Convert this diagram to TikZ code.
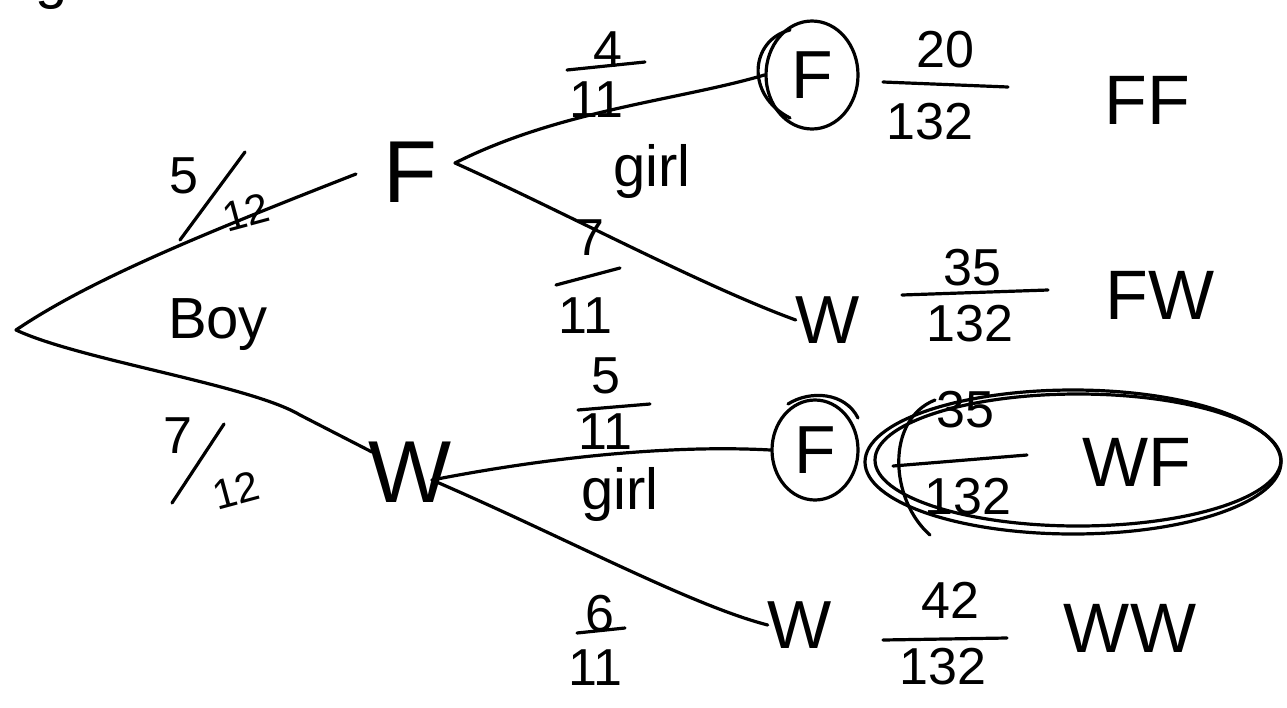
\documentclass[tikz,border=0pt]{standalone}
\usepackage{fontspec}
\setmainfont{Liberation Sans}
\usetikzlibrary{shapes.geometric}
\begin{document}
\begin{tikzpicture}[x=1pt,y=-1pt,
  ink/.style={line width=3.2pt, line cap=round, line join=round, black},
  big/.style={font=\fontsize{88}{88}\selectfont, inner sep=0pt},
  mid/.style={font=\fontsize{68}{68}\selectfont, inner sep=0pt},
  res/.style={font=\fontsize{70}{70}\selectfont, inner sep=0pt},
  num/.style={font=\fontsize{52}{52}\selectfont, inner sep=0pt},
  sml/.style={font=\fontsize{42}{42}\selectfont, inner sep=0pt},
  word/.style={font=\fontsize{58}{58}\selectfont, inner sep=0pt},
  ring/.style={ink, ellipse, draw, inner sep=0pt}]
\useasboundingbox (0,0) rectangle (1287,707);
\fill[white] (0,0) rectangle (1287,707);
% clipped fragment at top
\begin{scope}
\clip (0,0) rectangle (1287,707);
\node[word] (frag) at (52,-12) {g};
\end{scope}
% root and first level
\coordinate (root) at (16,330);
\node[big] (F1) at (410,172) {F};
\node[big] (W1) at (410,472) {W};
\coordinate (F1in) at (356,174);
\coordinate (W1in) at (372,452);
\draw[ink] (root) .. controls (90,280) and (200,235) .. (F1in);
\draw[ink] (root) .. controls (80,360) and (250,385) .. (300,415) -- (W1in);
% labels first level
\node[num] (n5) at (184,176) {5};
\node[sml, rotate=15] (d12a) at (246,212) {12};
\draw[ink] (180,240) -- (245,152);
\node[num] (n7) at (178,436) {7};
\node[sml, rotate=15] (d12b) at (236,490) {12};
\draw[ink] (172,503) -- (224,424);
\node[word] (boy) at (218,325) {Boy};
% second level nodes
\node[mid, ring, minimum width=92pt, minimum height=108pt] (F2) at (812,75) {F};
\draw[ink] (790,118) .. controls (745,95) and (750,40) .. (790,30);
\node[mid] (W2) at (828,320) {W};
\node[mid, ring, minimum width=86pt, minimum height=100pt] (F3) at (815,450) {F};
\draw[ink] (788,404) .. controls (810,390) and (845,392) .. (858,418);
\node[mid] (W3) at (800,625) {W};
% second level branches
\coordinate (F1out) at (455,163);
\coordinate (W1out) at (432,480);
\draw[ink] (F1out) .. controls (560,110) and (680,100) .. (F2.west);
\draw[ink] (F1out) .. controls (560,210) and (700,285) .. (W2.west);
\draw[ink] (W1out) .. controls (560,455) and (680,445) .. (F3.west);
\draw[ink] (W1out) .. controls (560,535) and (690,605) .. (W3.west);
% second level labels
\node[num] (n4) at (608,50) {4};
\draw[ink] (567,70) -- (645,62);
\node[num] (d11a) at (596,100) {11};
\node[num] (n7b) at (590,238) {7};
\draw[ink] (556,285) -- (620,268);
\node[num] (d11b) at (585,316) {11};
\node[num] (n5b) at (606,376) {5};
\draw[ink] (578,410) -- (650,404);
\node[num] (d11c) at (605,432) {11};
\node[num] (n6) at (600,614) {6};
\draw[ink] (577,633) -- (625,628);
\node[num] (d11d) at (595,668) {11};
\node[word] (girl1) at (652,172) {girl};
\node[word] (girl2) at (620,494) {girl};
% probabilities
\node[num] (p1n) at (945,50) {20};
\draw[ink] (883,82) -- (1008,87);
\node[num] (p1d) at (930,122) {132};
\node[num] (p2n) at (972,268) {35};
\draw[ink] (902,295) -- (1048,290);
\node[num] (p2d) at (970,324) {132};
\node[num] (p3n) at (965,410) {35};
\draw[ink] (893,466) -- (1027,455);
\node[num] (p3d) at (968,497) {132};
\node[num] (p4n) at (950,600) {42};
\draw[ink] (883,640) -- (1007,638);
\node[num] (p4d) at (943,667) {132};
% outcomes
\node[res] (FF) at (1147,100) {FF};
\node[res] (FW) at (1160,295) {FW};
\node[res] (WF) at (1137,462) {WF};
\node[res] (WW) at (1130,628) {WW};
% group ellipse
\draw[ink] (1073,462) ellipse [x radius=208pt, y radius=72pt];
\draw[ink] (1078,460) ellipse [x radius=203pt, y radius=66pt];
\draw[ink] (935,400) .. controls (885,420) and (890,500) .. (930,535);
\end{tikzpicture}
\end{document}
